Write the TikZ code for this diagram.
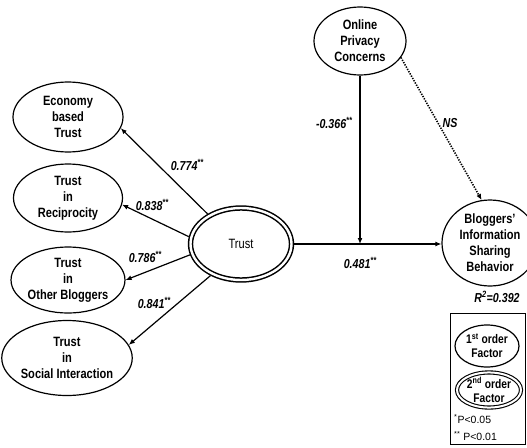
\documentclass[tikz,border=0pt]{standalone}
\usepackage{fontspec}
\setmainfont{Liberation Sans}[FakeStretch=0.82]
\newfontfamily\plainsans{Liberation Sans}
\usetikzlibrary{shapes.geometric,arrows.meta}
\newcommand\twostars{\raisebox{0.42em}{\fontsize{9}{9}\selectfont **}}
\begin{document}
\begin{tikzpicture}[x=1pt,y=-1pt,
  lat/.style={ellipse, draw, line width=1.2pt, inner sep=0pt, align=center,
    font=\fontsize{13.5}{16}\selectfont\bfseries},
  dbl/.style={ellipse, draw, double, double distance=2.4pt, line width=1.5pt,
    inner sep=0pt, align=center},
  arr/.style={line width=1.2pt, -{Latex[length=6pt,width=5pt]}},
  coef/.style={font=\fontsize{13}{15}\selectfont\bfseries\itshape, inner sep=0pt},
  note/.style={font=\plainsans\fontsize{10.5}{12}\selectfont, inner sep=0pt, anchor=west}]
\useasboundingbox (0,0) rectangle (527,447);
\clip (0,0) rectangle (527,447);

% first-order factors
\node[lat, minimum width=110pt, minimum height=70pt] (econ) at (68,117) {Economy\\based\\Trust};
\node[lat, minimum width=109pt, minimum height=68pt] (recip) at (68,198) {Trust\\in\\Reciprocity};
\node[lat, minimum width=108pt, minimum height=66pt] (other) at (68,280) {Trust\\in\\Other Bloggers};
\node[lat, minimum width=104pt, minimum height=75pt] (social) at (67,358) {Trust\\in\\Social Interaction};

% second-order factor
\node[dbl, minimum width=101pt, minimum height=72pt, outer sep=2.7pt,
  font=\fontsize{13.5}{16}\selectfont] (trust) at (241,244) {Trust};

% other constructs
\node[lat, minimum width=92pt, minimum height=68pt] (opc) at (360,41) {Online\\Privacy\\Concerns};
\node[lat, minimum width=96pt, minimum height=86pt] (blog) at (490,243) {Bloggers'\\Information\\Sharing\\Behavior};

% connectors
\draw[arr] (trust.138) -- (econ.-12);
\draw[arr] (trust.172) -- (recip.-7);
\draw[arr] (trust.192) -- (other.0);
\draw[arr] (trust.226) -- (social.12);
\draw[arr] (trust.east) -- (blog.west |- trust.east);
\coordinate (meet) at (opc |- trust);
\draw[arr] (opc) -- (meet);
\draw[line width=1.6pt, dash pattern=on 1.3pt off 1.3pt, -{Latex[length=6pt,width=5pt]}] (opc.-22) -- (blog.101);

% coefficients
\node[coef] (c1) at (187,165) {0.774\twostars};
\node[coef] (c2) at (152,205) {0.838\twostars};
\node[coef] (c3) at (145,257) {0.786\twostars};
\node[coef] (c4) at (154,303) {0.841\twostars};
\node[coef] (c5) at (334,123) {-0.366\twostars};
\node[coef] (c6) at (450,123) {NS};
\node[coef] (c7) at (360,263) {0.481\twostars};
\node[coef] (r2) at (497,297) {R\textsuperscript{2}=0.392};

% legend
\node[draw, line width=1pt, minimum width=75pt, minimum height=131pt, inner sep=0pt] (legend) at (487.5,378.5) {};
\node[lat, minimum width=64pt, minimum height=42pt, font=\fontsize{12.5}{14}\selectfont\bfseries] (first) at (487,346) {1\textsuperscript{st} order\\Factor};
\node[dbl, minimum width=64pt, minimum height=33pt, line width=1.1pt, double distance=2pt,
  font=\fontsize{12.5}{14}\selectfont\bfseries] (second) at (489,390) {2\textsuperscript{nd} order\\Factor};
\node[note] (p1) at (454,419) {\textsuperscript{*}P<0.05};
\node[note] (p2) at (454,436) {\textsuperscript{**} P<0.01};
\end{tikzpicture}
\end{document}
